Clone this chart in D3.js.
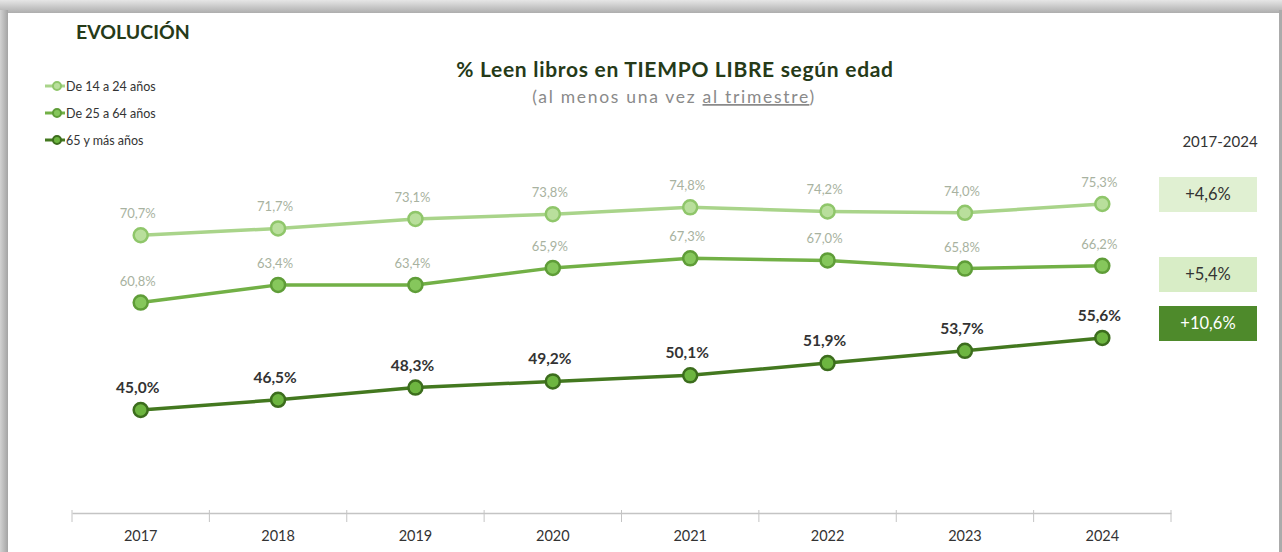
<html>
<head>
<script src="https://d3js.org/d3.v7.min.js"></script>
<style>
  body { margin: 0; background: #fff; }
  svg { display: block; font-family: Lato, "Open Sans", sans-serif; }
</style>
</head>
<body>
<svg id="chart" width="1282" height="552"></svg>
<script>
  // data
  var years = ["2017", "2018", "2019", "2020", "2021", "2022", "2023", "2024"];
  var seriesNames = ["De 14 a 24 años", "De 25 a 64 años", "65 y más años"];
  var young = [70.7, 71.7, 73.1, 73.8, 74.8, 74.2, 74.0, 75.3];
  var adult = [60.8, 63.4, 63.4, 65.9, 67.3, 67.0, 65.8, 66.2];
  var senior = [45.0, 46.5, 48.3, 49.2, 50.1, 51.9, 53.7, 55.6];
  var changes = ["+4,6%", "+5,4%", "+10,6%"];

  var styles = [
    { line: "#a9d48a", fill: "#b9df9c", stroke: "#8fc66a", label: "#a8b2a0", weight: "normal", size: 13 },
    { line: "#72b046", fill: "#86c75c", stroke: "#5f9d38", label: "#a8b2a0", weight: "normal", size: 13 },
    { line: "#43781f", fill: "#6db540", stroke: "#3c6d1d", label: "#333333", weight: "bold", size: 15.5 }
  ];
  var boxFill = ["#e0f0d2", "#d8edc6", "#4e8a2b"];
  var boxText = ["#333", "#333", "#fff"];

  var svg = d3.select("#chart");

  // shadowed frame
  var defs = svg.append("defs");
  var gTop = defs.append("linearGradient").attr("id", "gTop").attr("x1", 0).attr("y1", 0).attr("x2", 0).attr("y2", 1);
  gTop.append("stop").attr("offset", "0%").attr("stop-color", "#e6e6e6");
  gTop.append("stop").attr("offset", "100%").attr("stop-color", "#a9a9a9");
  var gSide = defs.append("linearGradient").attr("id", "gSide").attr("x1", 0).attr("y1", 0).attr("x2", 1).attr("y2", 0);
  gSide.append("stop").attr("offset", "0%").attr("stop-color", "#d2d2d2");
  gSide.append("stop").attr("offset", "100%").attr("stop-color", "#a4a4a4");
  svg.append("rect").attr("width", 1282).attr("height", 14).attr("fill", "url(#gTop)");
  svg.append("rect").attr("x", 0).attr("y", 10).attr("width", 8).attr("height", 542).attr("fill", "url(#gSide)");
  svg.append("rect").attr("x", 1279).attr("y", 10).attr("width", 3).attr("height", 542).attr("fill", "#ababab");
  svg.append("rect").attr("x", 8).attr("y", 13).attr("width", 1271).attr("height", 539).attr("fill", "#fff");

  var x = d3.scaleBand().domain(years).range([72, 1171]).padding(0);
  var y = d3.scaleLinear().domain([30, 80]).range([512, 172]);

  // x axis
  var axis = svg.append("g")
    .attr("transform", "translate(0,513)")
    .call(d3.axisBottom(x).tickSize(0).tickPadding(18));
  axis.select(".domain").attr("stroke", "#c4c4c4").attr("stroke-width", 1.5);
  axis.selectAll("text").attr("font-size", 14.5).attr("fill", "#333").attr("font-family", "Lato, sans-serif");
  var bounds = years.map(function(d) { return x(d); }).concat([x.range()[1]]);
  axis.selectAll(".bound").data(bounds).enter().append("line")
    .attr("x1", function(d) { return d; }).attr("x2", function(d) { return d; })
    .attr("y1", -3).attr("y2", 9)
    .attr("stroke", "#c4c4c4").attr("stroke-width", 1);

  // lines
  var data = [young, adult, senior];
  var line = d3.line()
    .x(function(d, i) { return x(years[i]) + x.bandwidth() / 2; })
    .y(function(d) { return y(d); });

  data.forEach(function(vals, s) {
    var st = styles[s];
    svg.append("path").datum(vals)
      .attr("fill", "none").attr("stroke", st.line).attr("stroke-width", 3.5)
      .attr("d", line);
    svg.selectAll(".pt" + s).data(vals).enter().append("circle")
      .attr("cx", function(d, i) { return x(years[i]) + x.bandwidth() / 2; })
      .attr("cy", function(d) { return y(d); })
      .attr("r", 7)
      .attr("fill", st.fill).attr("stroke", st.stroke).attr("stroke-width", 2.5);
    svg.selectAll(".lb" + s).data(vals).enter().append("text")
      .attr("x", function(d, i) { return x(years[i]) + x.bandwidth() / 2 - 3; })
      .attr("y", function(d) { return y(d) - 17; })
      .attr("text-anchor", "middle")
      .attr("font-size", st.size).attr("font-weight", st.weight).attr("fill", st.label)
      .text(function(d) { return d.toFixed(1).replace(".", ",") + "%"; });
  });

  // titles
  svg.append("text").attr("x", 76).attr("y", 39).attr("font-size", 19.5).attr("font-weight", "bold")
    .attr("fill", "#263a18").text("EVOLUCIÓN");
  svg.append("text").attr("x", 675).attr("y", 77).attr("text-anchor", "middle")
    .attr("font-size", 21).attr("letter-spacing", 0.7).attr("font-weight", "bold").attr("fill", "#263a18")
    .text("% Leen libros en TIEMPO LIBRE según edad");
  var sub = svg.append("text").attr("x", 674).attr("y", 103).attr("text-anchor", "middle")
    .attr("font-size", 17.5).attr("letter-spacing", 1.7).attr("fill", "#8a8a8a");
  sub.append("tspan").text("(al menos una vez ");
  sub.append("tspan").attr("text-decoration", "underline").text("al trimestre");
  sub.append("tspan").text(")");

  // legend
  seriesNames.forEach(function(name, s) {
    var st = styles[s];
    var ly = 86 + s * 27;
    svg.append("line").attr("x1", 45).attr("x2", 65).attr("y1", ly).attr("y2", ly)
      .attr("stroke", st.line).attr("stroke-width", 3);
    svg.append("circle").attr("cx", 57).attr("cy", ly).attr("r", 4)
      .attr("fill", st.fill).attr("stroke", st.stroke).attr("stroke-width", 2);
    svg.append("text").attr("x", 66).attr("y", ly + 4.5).attr("font-size", 12.5).attr("fill", "#333").text(name);
  });

  // change boxes
  svg.append("text").attr("x", 1220).attr("y", 147).attr("text-anchor", "middle").attr("font-size", 15)
    .attr("fill", "#333").text("2017-2024");
  var boxY = [177, 257, 306];
  changes.forEach(function(c, s) {
    svg.append("rect").attr("x", 1159).attr("y", boxY[s]).attr("width", 98).attr("height", 35)
      .attr("fill", boxFill[s]);
    svg.append("text").attr("x", 1208).attr("y", boxY[s] + 23).attr("text-anchor", "middle")
      .attr("font-size", 16.5).attr("fill", boxText[s]).text(c);
  });
</script>
</body>
</html>
